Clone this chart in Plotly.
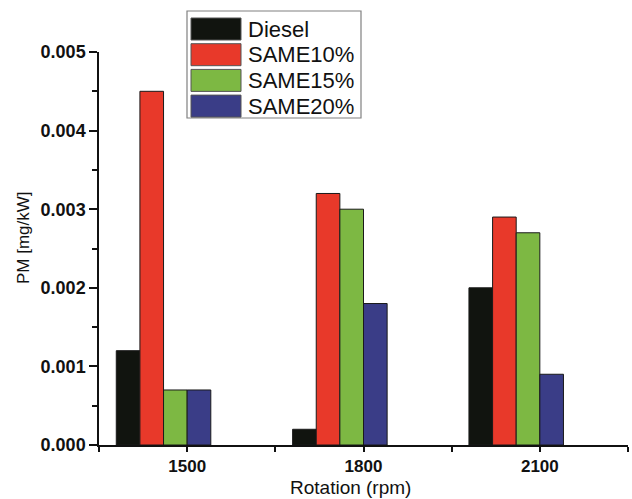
import plotly.graph_objects as go

categories = ["1500", "1800", "2100"]
series_names = ["Diesel", "SAME10%", "SAME15%", "SAME20%"]
diesel = [0.0012, 0.0002, 0.0020]
same10 = [0.0045, 0.0032, 0.0029]
same15 = [0.0007, 0.0030, 0.0027]
same20 = [0.0007, 0.0018, 0.0009]
series_values = [diesel, same10, same15, same20]
colors = ["#11140f", "#e8392a", "#7db843", "#3a3d87"]
y_ticks = [0.000, 0.001, 0.002, 0.003, 0.004, 0.005]

W, H = 632, 499
L, R, T, B = 99, 4, 52, 54
pw, ph = W - L - R, H - T - B

bar_w = 0.134
xpos = list(range(len(categories)))

fig = go.Figure()
for i, (name, vals, col) in enumerate(zip(series_names, series_values, colors)):
    fig.add_trace(go.Bar(
        x=xpos, y=vals, name=name, width=bar_w, offset=(i - 3) * bar_w,
        marker=dict(color=col, line=dict(color="#1a1a1a", width=1)),
        showlegend=False,
    ))

def px2px(px):
    return (px - L) / pw

def py2py(py):
    return (H - B - py) / ph

shapes = []
annotations = []
# legend box
shapes.append(dict(type="rect", xref="paper", yref="paper",
                   x0=px2px(187), x1=px2px(361), y0=py2py(118), y1=py2py(11),
                   line=dict(color="#808080", width=1.2), fillcolor="white", layer="above"))
for i, (name, col) in enumerate(zip(series_names, colors)):
    top = 18 + 25.7 * i
    shapes.append(dict(type="rect", xref="paper", yref="paper",
                       x0=px2px(191), x1=px2px(241), y0=py2py(top + 22), y1=py2py(top),
                       line=dict(color="#555555", width=1), fillcolor=col, layer="above"))
    annotations.append(dict(xref="paper", yref="paper", x=px2px(246), y=py2py(top + 11),
                            text=name, showarrow=False, xanchor="left", yanchor="middle",
                            font=dict(family="Liberation Sans, Arial", size=22, color="#111111")))

# axis titles
annotations.append(dict(xref="paper", yref="paper", x=px2px(350), y=py2py(499),
                        text="Rotation (rpm)", showarrow=False, xanchor="center", yanchor="bottom",
                        borderpad=0,
                        font=dict(family="Liberation Sans, Arial", size=19, color="#111111")))
annotations.append(dict(xref="paper", yref="paper", x=px2px(23), y=py2py(238),
                        text="PM [mg/kW]", showarrow=False, xanchor="center", yanchor="middle",
                        textangle=-90,
                        font=dict(family="Liberation Sans, Arial", size=17, color="#111111")))

fig.update_layout(
    width=W, height=H,
    margin=dict(l=L, r=R, t=T, b=B, pad=0),
    paper_bgcolor="white", plot_bgcolor="white",
    barmode="overlay",
    shapes=shapes, annotations=annotations,
    showlegend=False,
)
fig.update_xaxes(
    range=[-0.5, 2.5], tickmode="array", tickvals=xpos, ticktext=categories,
    showline=True, linecolor="#111111", linewidth=1.5,
    ticks="outside", ticklen=5, tickwidth=1.5, tickcolor="#111111",
    showgrid=False, zeroline=False,
    tickfont=dict(family="Liberation Sans, Arial", size=17, color="#111111", weight="bold"),
    minor=dict(tickmode="linear", tick0=-0.5, dtick=1, ticks="outside", ticklen=5,
               tickwidth=1.5, tickcolor="#111111", showgrid=False),
)
fig.update_yaxes(
    range=[0, 0.005], tickmode="array", tickvals=y_ticks,
    ticktext=[f"{v:.3f}" for v in y_ticks],
    showline=True, linecolor="#111111", linewidth=1.5,
    ticks="outside", ticklen=8, tickwidth=1.5, tickcolor="#111111",
    showgrid=False, zeroline=False,
    tickfont=dict(family="Liberation Sans, Arial", size=18, color="#111111", weight="bold"),
    minor=dict(tickmode="linear", tick0=0, dtick=0.0005, ticks="outside", ticklen=5,
               tickwidth=1.5, tickcolor="#111111", showgrid=False),
)

fig.write_html("out.html")
